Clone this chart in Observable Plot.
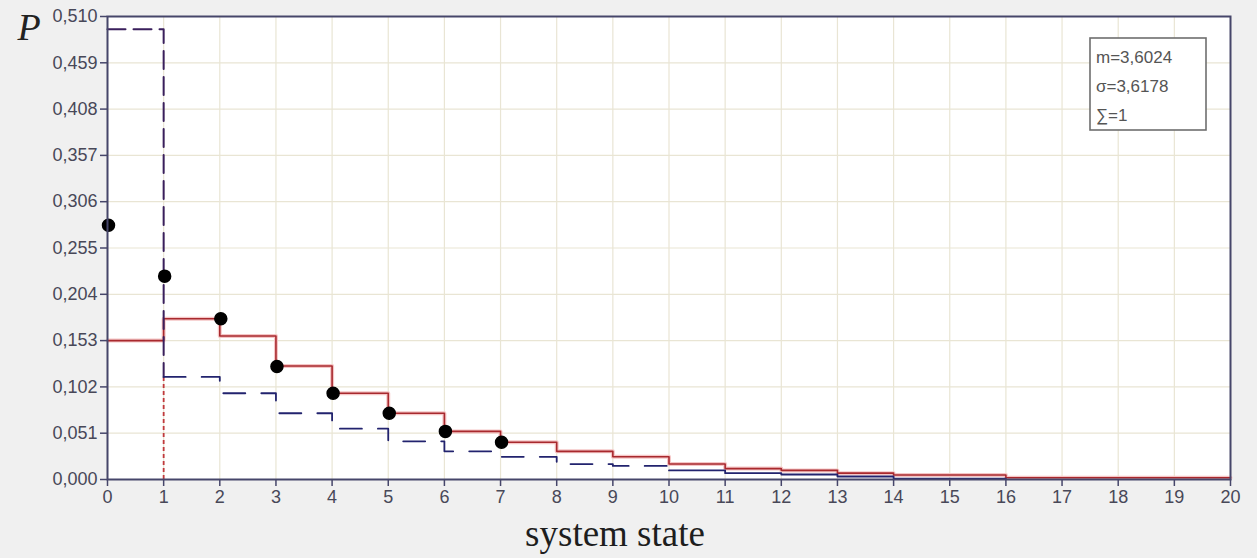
<!DOCTYPE html>
<html>
<head>
<meta charset="utf-8">
<script src="https://cdn.jsdelivr.net/npm/d3@7"></script>
<script src="https://cdn.jsdelivr.net/npm/@observablehq/plot@0.6"></script>
<style>
  html, body { margin: 0; padding: 0; background: #f0f0f0; }
  #chart { width: 1257px; height: 558px; }
</style>
</head>
<body>
<div id="chart"></div>
<script>
// ---- data ----
const xTicks = [0,1,2,3,4,5,6,7,8,9,10,11,12,13,14,15,16,17,18,19,20];
const yTicks = [0.000,0.051,0.102,0.153,0.204,0.255,0.306,0.357,0.408,0.459,0.510];

// red solid step (value on each interval [k, k+1], last point closes at 20)
const redX = [0,1,2,3,4,5,6,7,8,9,10,11,12,13,14,15,16,17,18,19,20];
const redP = [0.153,0.177,0.158,0.125,0.095,0.073,0.053,0.041,0.031,0.025,0.017,0.012,0.010,0.007,0.005,0.005,0.002,0.002,0.002,0.002,0.002];

// dashed step, first interval (purple)
const topX = [0,1];
const topP = [0.496,0.113];

// dashed blue step
const blueX = [1,2,3,4,5,6,7,8,9,10];
const blueP = [0.113,0.095,0.073,0.056,0.042,0.031,0.025,0.017,0.015,0.010];
// tail (drawn solid)
const tailX = [10,11,12,13,14,16];
const tailP = [0.010,0.007,0.0055,0.0033,0.001,0.001];

// red dotted riser at state 1
const riserX = [1];
const riserTop = [0.113];

// black points
const pointX = [0,1,2,3,4,5,6,7];
const pointP = [0.280,0.224,0.177,0.1245,0.095,0.073,0.053,0.041];

// legend
const legendLines = ["m=3,6024", "\u03c3=3,6178", "\u2211=1"];

const toRows = (xs, ys) => xs.map((x, i) => ({x, y: ys[i]}));
const red = toRows(redX, redP);
const top1 = toRows(topX, topP);
const blue = toRows(blueX, blueP);
const tail = toRows(tailX, tailP);
const pts = toRows(pointX, pointP);
const riser = riserX.map((x, i) => ({x, y2: riserTop[i]}));

const frameColor = "#46466a";
const labelColor = "#484858";

const legendMark = (index, scales, values, dimensions) => {
  const g = d3.create("svg:g");
  const x0 = dimensions.width - dimensions.marginRight - 140;
  const y0 = dimensions.marginTop + 22;
  g.append("rect")
    .attr("x", x0).attr("y", y0)
    .attr("width", 116).attr("height", 92)
    .attr("fill", "white").attr("stroke", "#6e6e6e").attr("stroke-width", 1.6);
  legendLines.forEach((t, i) => {
    g.append("text")
      .attr("x", x0 + 6).attr("y", y0 + 25 + i * 29)
      .attr("text-anchor", "start")
      .attr("fill", "#555")
      .attr("font-family", "Liberation Sans, Arial, sans-serif")
      .attr("font-size", 17)
      .text(t);
  });
  return g.node();
};

const chart = Plot.plot({
  width: 1257,
  height: 558,
  marginLeft: 107,
  marginRight: 27,
  marginTop: 16,
  marginBottom: 79,
  style: {background: "#f0f0f0", fontFamily: "Liberation Sans, Arial, sans-serif", fontSize: "18px", color: labelColor, overflow: "visible"},
  x: {domain: [0, 20]},
  y: {domain: [0, 0.51]},
  marks: [
    Plot.frame({fill: "white", stroke: "none"}),
    Plot.gridX(xTicks, {stroke: "#e9e5d4", strokeOpacity: 1, strokeWidth: 1.2}),
    Plot.gridY(yTicks, {stroke: "#e9e5d4", strokeOpacity: 1, strokeWidth: 1.2}),
    legendMark,
    // red step with soft halo
    Plot.line(red, {x: "x", y: "y", curve: "step-after", stroke: "#f5c6c6", strokeWidth: 4}),
    Plot.line(red, {x: "x", y: "y", curve: "step-after", stroke: "#a8292e", strokeWidth: 1.6}),
    // dotted red riser at 1
    Plot.ruleX(riser, {x: "x", y1: 0, y2: "y2", stroke: "#c0393c", strokeWidth: 1.8, strokeDasharray: "4,3"}),
    // dashed purple top segment
    Plot.line(top1, {x: "x", y: "y", curve: "step-after", stroke: "#3a1f5c", strokeWidth: 2, strokeDasharray: "18,8"}),
    // dashed blue step
    Plot.line(blue, {x: "x", y: "y", curve: "step-after", stroke: "#22236e", strokeWidth: 1.8, strokeDasharray: "22,16"}),
    Plot.line(tail, {x: "x", y: "y", curve: "step-after", stroke: "#22236e", strokeWidth: 1.8}),
    // points
    Plot.dot(pts, {x: "x", y: "y", r: 6, fill: "black", stroke: "black", dx: 1}),
    Plot.frame({stroke: frameColor, strokeWidth: 2}),
    Plot.axisX({ticks: xTicks, tickFormat: d => String(d), tickSize: 7, tickPadding: 4, stroke: frameColor, strokeWidth: 1.5, fill: labelColor, label: null}),
    Plot.axisY({ticks: yTicks, tickFormat: d => d.toFixed(3).replace(".", ","), tickSize: 7, tickPadding: 3, stroke: frameColor, strokeWidth: 1.5, fill: labelColor, label: null}),
    Plot.text(["P"], {frameAnchor: "top-left", textAnchor: "start", lineAnchor: "bottom", dx: -90, dy: 23, fontSize: 38, fontStyle: "italic", fontFamily: "Liberation Serif, Times New Roman, serif", fill: "#222"}),
    Plot.text(["system state"], {frameAnchor: "bottom", textAnchor: "middle", lineAnchor: "bottom", dx: -54, dy: 66, fontSize: 37, fontFamily: "Liberation Serif, Times New Roman, serif", fill: "#1e1e1e"})
  ]
});
document.getElementById("chart").appendChild(chart);
</script>
</body>
</html>
